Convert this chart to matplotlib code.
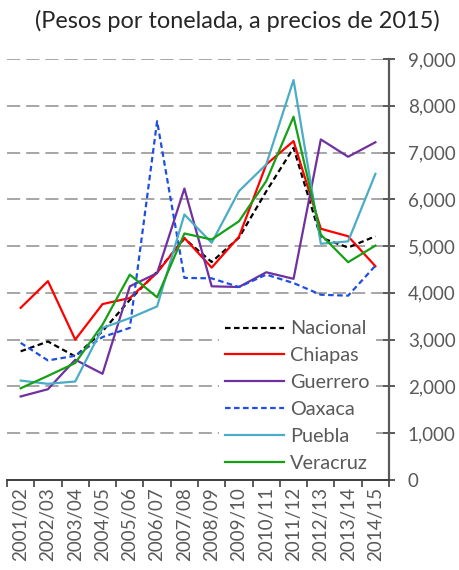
import matplotlib
matplotlib.use("Agg")
import matplotlib.pyplot as plt
import numpy as np

plt.rcParams['font.family'] = ['Lato', 'DejaVu Sans']
plt.rcParams['lines.scale_dashes'] = False

ciclos = ["2001/02", "2002/03", "2003/04", "2004/05", "2005/06", "2006/07", "2007/08",
          "2008/09", "2009/10", "2010/11", "2011/12", "2012/13", "2013/14", "2014/15"]

nacional = [2750, 2960, 2640, 3180, 3850, 4450, 5160, 4660, 5180, 6170, 7100, 5180, 4970, 5210]
chiapas  = [3680, 4250, 3000, 3760, 3890, 4430, 5175, 4540, 5200, 6745, 7245, 5370, 5210, 4570]
guerrero = [1785, 1940, 2570, 2270, 4140, 4420, 6230, 4140, 4125, 4440, 4300, 7280, 6910, 7220]
oaxaca   = [2930, 2555, 2655, 3055, 3250, 7670, 4320, 4310, 4125, 4390, 4210, 3960, 3940, 4580]
puebla   = [2125, 2055, 2105, 3250, 3460, 3710, 5675, 5070, 6175, 6745, 8550, 5050, 5100, 6545]
veracruz = [1960, 2225, 2500, 3320, 4390, 3905, 5270, 5140, 5530, 6390, 7765, 5245, 4655, 5010]

series = [
    ("Nacional", nacional, "#000000", (0, (4.0, 2.5))),
    ("Chiapas", chiapas, "#ff0000", "-"),
    ("Guerrero", guerrero, "#7030a0", "-"),
    ("Oaxaca", oaxaca, "#1f4fe0", (0, (4.0, 2.5))),
    ("Puebla", puebla, "#4bacc6", "-"),
    ("Veracruz", veracruz, "#16a016", "-"),
]

fig = plt.figure(figsize=(4.59, 5.70), dpi=100)
ax = fig.add_axes([0.0153, 0.158, 0.8323, 0.7385])

x = np.arange(len(ciclos))
for name, vals, color, ls in series:
    ax.plot(x, vals, color=color, linestyle=ls, linewidth=1.6, label=name, zorder=3)

ax.set_xlim(-0.5, len(ciclos) - 0.5)
ax.set_ylim(0, 9000)

# horizontal dashed gridlines
for v in range(1000, 9001, 1000):
    ax.axhline(v, color="#a6a6a6", linewidth=1.4, linestyle=(0, (9.5, 4.3)), zorder=1)

ax.yaxis.tick_right()
ax.set_yticks(range(0, 9001, 1000))
ax.set_yticklabels([f"{v:,}" for v in range(0, 9001, 1000)])
ax.tick_params(axis="y", direction="inout", length=8, width=1.4, color="#595959",
               labelsize=13.5, labelcolor="#595959", pad=9.5)

# category ticks on boundaries, labels at centres
ax.set_xticks(np.arange(-0.5, len(ciclos)), minor=False)
ax.set_xticklabels([])
ax.set_xticks(x, minor=True)
ax.set_xticklabels(ciclos, minor=True, rotation=90, fontsize=13.5, color="#595959")
ax.tick_params(axis="x", which="major", direction="out", length=5, width=1.2, color="#404040")
ax.tick_params(axis="x", which="minor", length=0, pad=5)

for side in ["top", "left"]:
    ax.spines[side].set_visible(False)
ax.spines["bottom"].set_color("#404040")
ax.spines["bottom"].set_linewidth(1.4)
ax.spines["right"].set_color("#595959")
ax.spines["right"].set_linewidth(1.6)

leg = ax.legend(loc="lower right", bbox_to_anchor=(0.975, -0.005), frameon=True, fontsize=14.3,
                handlelength=3.0, handletextpad=0.3, labelspacing=0.5, borderpad=0.3,
                borderaxespad=0.2, labelcolor="#595959")
leg.get_frame().set_edgecolor("none")
leg.get_frame().set_facecolor("white")
leg.get_frame().set_alpha(1.0)
leg.set_zorder(5)

fig.text(0.517, 0.964, "(Pesos por tonelada, a precios de 2015)", ha="center", va="center",
         fontsize=16.9, color="#262626")

fig.savefig("out.png", dpi=100)
